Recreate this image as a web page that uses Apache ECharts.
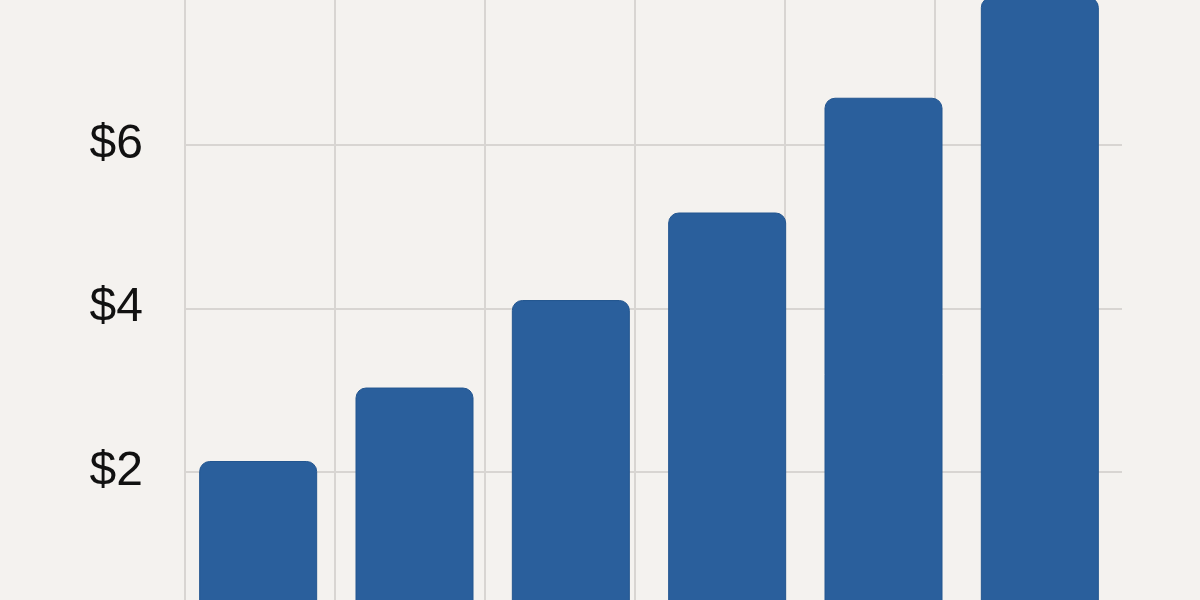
<!DOCTYPE html>
<html lang="en">
<head>
    <meta charset="UTF-8">
    <title>Bar chart</title>
    <script src="https://cdn.jsdelivr.net/npm/echarts@6/dist/echarts.min.js"></script>
    <style>
        html, body { margin: 0; padding: 0; background: #f4f2ef; overflow: hidden; }
        /* chart is taller than the window and shifted up, so $8 and $0 fall just outside the view */
        #chart { position: absolute; left: 0; top: -60px; width: 1200px; height: 720px; }
    </style>
</head>
<body>
    <div id="chart"></div>
    <script>
        // values
        var categories = ['1', '2', '3', '4', '5', '6'];
        var values = [2.18, 3.07, 4.13, 5.19, 6.58, 7.8];
        var yMin = 0, yMax = 8, yStep = 2;
        // vertical guide lines, one per unit (150px apart)
        var vMax = 6.2467;

        var chart = echarts.init(document.getElementById('chart'));

        chart.setOption({
            backgroundColor: '#f4f2ef',
            animation: false,
            grid: [
                { left: 180, right: 82, top: 40.5, bottom: 19 },
                { left: 185, right: 78, top: 40.5, bottom: 19 }
            ],
            xAxis: [
                {
                    type: 'category', gridIndex: 0, data: categories,
                    axisLine: { show: false }, axisTick: { show: false },
                    axisLabel: { show: false }, splitLine: { show: false }
                },
                {
                    type: 'value', gridIndex: 1, min: 0, max: vMax, interval: 1,
                    axisLine: { show: false }, axisTick: { show: false },
                    axisLabel: { show: false },
                    splitLine: { show: true, showMaxLine: false, lineStyle: { color: '#d8d5d2', width: 2 } }
                }
            ],
            yAxis: [
                {
                    type: 'value', gridIndex: 0, min: yMin, max: yMax, interval: yStep,
                    axisLine: { show: false }, axisTick: { show: false },
                    axisLabel: { show: false }, splitLine: { show: false }
                },
                {
                    type: 'value', gridIndex: 1, min: yMin, max: yMax, interval: yStep,
                    axisLine: { show: false }, axisTick: { show: false },
                    axisLabel: {
                        margin: 42, color: '#111',
                        fontFamily: 'Liberation Sans', fontSize: 48,
                        formatter: function (v) { return '$' + v; }
                    },
                    splitLine: { show: true, lineStyle: { color: '#d8d5d2', width: 2 } }
                }
            ],
            series: [{
                type: 'bar',
                xAxisIndex: 0, yAxisIndex: 0,
                data: values,
                barWidth: 118,
                itemStyle: {
                    color: '#2a5f9c',
                    borderColor: '#235690',
                    borderWidth: 1,
                    borderRadius: [10, 10, 0, 0]
                }
            }]
        });
    </script>
</body>
</html>
